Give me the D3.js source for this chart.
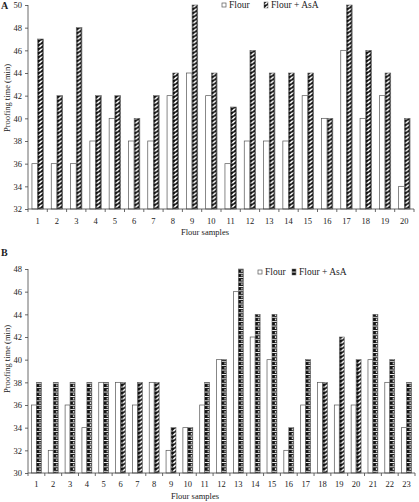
<!DOCTYPE html>
<html>
<head>
<meta charset="utf-8">
<script src="https://cdn.jsdelivr.net/npm/d3@7"></script>
<style>
body{margin:0;background:#fff;}
svg text{font-family:"Liberation Serif","DejaVu Serif",serif;fill:#222;}
</style>
</head>
<body>
<svg id="chart" width="419" height="502"></svg>
<script>
// panel A
const samplesA = d3.range(1, 21);
const flourA = [36,36,36,38,40,38,38,42,44,42,36,38,38,38,42,40,46,40,42,34];
const asaA   = [47,42,48,42,42,40,42,44,50,44,41,46,44,44,44,40,50,46,44,40];
const yTicksA = [32,34,36,38,40,42,44,46,48,50];

// panel B
const samplesB = d3.range(1, 24);
const flourB = [36,32,36,34,38,38,36,38,32,34,36,40,46,42,40,32,36,38,36,36,40,38,34];
const asaB   = [38,38,38,38,38,38,38,38,34,34,38,40,48,44,44,34,40,38,42,40,44,40,38];
const yTicksB = [30,32,34,36,38,40,42,44,46,48];
// samples in B whose AsA bar is drawn with the slanted hatch
const slantB = [6,7,8,9,18,19,20];

const series = ["Flour", "Flour + AsA"];

let svg = d3.select("#chart");
let defs = svg.append("defs");

// slanted hatch (panel A style)
let pd = defs.append("pattern").attr("id", "slant")
	.attr("patternUnits", "userSpaceOnUse")
	.attr("width", 6).attr("height", 4);
pd.append("rect").attr("width", 6).attr("height", 4).attr("fill", "#111");
pd.append("path").attr("d", "M0,3.4 L3,0.4 L5.2,0.4 L2.2,3.4 Z").attr("fill", "#fff");
pd.append("path").attr("d", "M4.6,3.4 L6,2 L6,3.4 Z").attr("fill", "#fff");

// block/dot hatch (panel B style)
let pb = defs.append("pattern").attr("id", "block")
	.attr("patternUnits", "userSpaceOnUse")
	.attr("width", 6).attr("height", 4.4);
pb.append("rect").attr("width", 6).attr("height", 4.4).attr("fill", "#fff");
pb.append("rect").attr("y", 0.9).attr("width", 6).attr("height", 3.5).attr("fill", "#111");
pb.append("circle").attr("cx", 2.6).attr("cy", 2.6).attr("r", 0.85).attr("fill", "#fff");

function drawPanel(cfg){
	let g = svg.append("g");

	let x = d3.scaleBand()
		.domain(cfg.samples)
		.range([cfg.x0, cfg.x1])
		.paddingInner(0.41)
		.paddingOuter(0.205);
	let step = (cfg.x1 - cfg.x0) / cfg.samples.length;
	let sub = d3.scaleBand().domain(series).range([0, x.bandwidth()]);

	let y = d3.scaleLinear()
		.domain([cfg.yTicks[0], cfg.yTicks[cfg.yTicks.length - 1]])
		.range([cfg.yBot, cfg.yTop]);

	// bars
	let rows = cfg.samples.map((s, i) => ({s: s, flour: cfg.flour[i], asa: cfg.asa[i]}));
	let grp = g.selectAll(".pair")
		.data(rows)
		.join("g")
		.attr("transform", d => "translate(" + x(d.s) + ",0)");

	grp.append("rect")
		.attr("x", sub("Flour"))
		.attr("width", sub.bandwidth())
		.attr("y", d => y(d.flour))
		.attr("height", d => y(cfg.yTicks[0]) - y(d.flour))
		.attr("fill", "#fff")
		.attr("stroke", "#555")
		.attr("stroke-width", 0.7);

	grp.append("rect")
		.attr("x", sub("Flour + AsA"))
		.attr("width", sub.bandwidth())
		.attr("y", d => y(d.asa))
		.attr("height", d => y(cfg.yTicks[0]) - y(d.asa))
		.attr("fill", d => "url(#" + cfg.fillFor(d.s) + ")")
		.attr("stroke", "#666")
		.attr("stroke-width", 0.6);

	// y axis
	let yAxis = g.append("g")
		.attr("transform", "translate(" + cfg.x0 + ",0)")
		.call(d3.axisLeft(y).tickValues(cfg.yTicks).tickSize(3).tickPadding(3));
	yAxis.selectAll("path, line").attr("stroke", "#444").attr("stroke-width", 0.8);
	yAxis.select(".domain").attr("d", "M0," + cfg.yBot + "V" + cfg.yTop);
	yAxis.selectAll("text").attr("font-size", 8.5).attr("fill", "#333")
		.style("font-family", "'Liberation Serif', serif");

	// x axis: ticks at band boundaries
	let xAxis = g.append("g").attr("transform", "translate(0," + cfg.yBot + ")");
	xAxis.append("line")
		.attr("x1", cfg.x0).attr("x2", cfg.x1)
		.attr("stroke", "#444").attr("stroke-width", 0.8);
	xAxis.selectAll(".tk")
		.data(d3.range(cfg.samples.length + 1))
		.join("line")
		.attr("x1", i => cfg.x0 + i * step)
		.attr("x2", i => cfg.x0 + i * step)
		.attr("y1", 0).attr("y2", 3)
		.attr("stroke", "#444").attr("stroke-width", 0.8);
	xAxis.selectAll(".lb")
		.data(cfg.samples)
		.join("text")
		.attr("x", d => x(d) + x.bandwidth() / 2)
		.attr("y", cfg.labelDy)
		.attr("text-anchor", "middle")
		.attr("font-size", 8.5)
		.attr("fill", "#333")
		.text(d => d);

	// titles
	g.append("text")
		.attr("x", cfg.xTitleX).attr("y", cfg.xTitleY)
		.attr("text-anchor", "middle")
		.attr("font-size", 8.5)
		.text("Flour samples");
	g.append("text")
		.attr("transform", "translate(" + 10 + "," + cfg.yTitleY + ") rotate(-90)")
		.attr("text-anchor", "middle")
		.attr("font-size", 8.5)
		.text("Proofing time (min)");
	g.append("text")
		.attr("x", 1).attr("y", cfg.letterY)
		.attr("font-size", 10).attr("font-weight", "bold")
		.text(cfg.letter);

	// legend
	let lg = g.append("g").attr("transform", "translate(" + cfg.legendX + "," + cfg.legendY + ")");
	lg.append("rect").attr("x", 0).attr("y", -6).attr("width", 4).attr("height", 4)
		.attr("fill", "#fff").attr("stroke", "#555").attr("stroke-width", 0.7);
	lg.append("text").attr("x", 7).attr("y", -1).attr("font-size", 9.5).text("Flour");
	lg.append("rect").attr("x", cfg.legendGap).attr("y", -7).attr("width", 4).attr("height", 6)
		.attr("fill", "url(#" + cfg.legendFill + ")").attr("stroke", "#666").attr("stroke-width", 0.5);
	lg.append("text").attr("x", cfg.legendGap + 7).attr("y", -1).attr("font-size", 9.5).text("Flour + AsA");
}

drawPanel({
	letter: "A", letterY: 9,
	samples: samplesA, flour: flourA, asa: asaA, yTicks: yTicksA,
	x0: 28, x1: 414, yTop: 5, yBot: 209,
	labelDy: 15, xTitleX: 205, xTitleY: 235, yTitleY: 98,
	fillFor: s => "slant",
	legendX: 222, legendY: 9, legendGap: 42, legendFill: "slant"
});

drawPanel({
	letter: "B", letterY: 256,
	samples: samplesB, flour: flourB, asa: asaB, yTicks: yTicksB,
	x0: 28, x1: 415, yTop: 269, yBot: 473,
	labelDy: 13.5, xTitleX: 195, xTitleY: 499, yTitleY: 359,
	fillFor: s => slantB.includes(s) ? "slant" : "block",
	legendX: 258, legendY: 276, legendGap: 34, legendFill: "block"
});
</script>
</body>
</html>
